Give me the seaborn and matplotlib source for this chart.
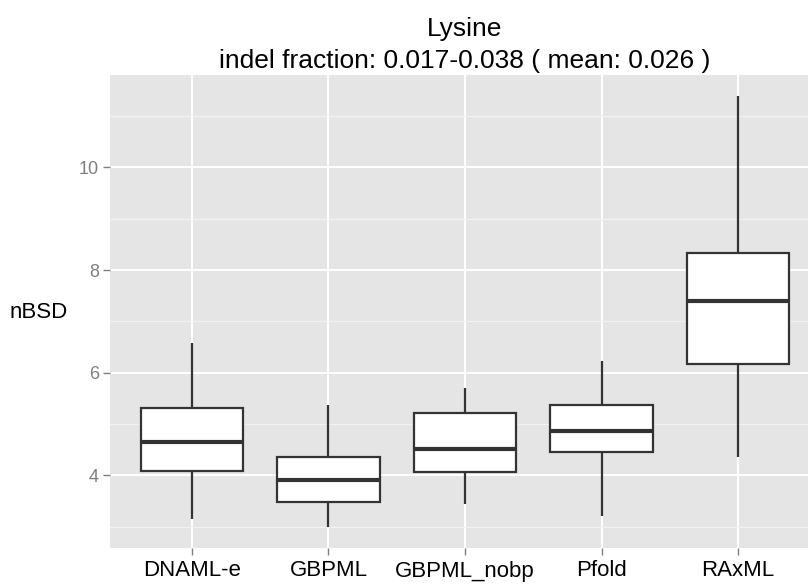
import numpy as np
import pandas as pd
import matplotlib
matplotlib.use("Agg")
import matplotlib.pyplot as plt
import seaborn as sns
from matplotlib.ticker import FixedLocator

# Five-number summaries of nBSD per method: whisker low, Q1, median, Q3, whisker high
methods = ["DNAML-e", "GBPML", "GBPML_nobp", "Pfold", "RAxML"]
dnaml_e = [3.14, 4.08, 4.65, 5.31, 6.57]
gbpml = [3.00, 3.47, 3.91, 4.35, 5.36]
gbpml_nobp = [3.45, 4.07, 4.51, 5.21, 5.70]
pfold = [3.21, 4.46, 4.87, 5.36, 6.23]
raxml = [4.35, 6.16, 7.40, 8.34, 11.39]
y_ticks = [4, 6, 8, 10]
y_minor = [3, 5, 7, 9, 11]

title_main = "Lysine"
title_sub = "indel fraction: 0.017-0.038 ( mean: 0.026 )"

summaries = [dnaml_e, gbpml, gbpml_nobp, pfold, raxml]
df = pd.DataFrame(
    [(m, v) for m, s in zip(methods, summaries) for v in s],
    columns=["method", "nBSD"],
)

sns.set_theme(style="white")
plt.rcParams["font.family"] = ["Liberation Sans", "DejaVu Sans"]

fig = plt.figure(figsize=(8.08, 5.87), dpi=100)
W, H = 808, 587
left, right, top, bottom = 110, 820, 75, 548
ax = fig.add_axes([left / W, (H - bottom) / H, (right - left) / W, (bottom - top) / H])
ax.set_facecolor("#E5E5E5")

sns.boxplot(
    data=df, x="method", y="nBSD", order=methods, ax=ax,
    color="white", linecolor="#333333", linewidth=1.6, width=0.75,
    whis=np.inf, showcaps=False, saturation=1,
    medianprops={"linewidth": 3.0, "color": "#333333"},
)

ax.set_xlim(-0.6, len(methods) - 0.4)
ax.set_ylim(2.583, 11.80)

# grid: white major lines, pale minor lines, drawn below boxes
ax.yaxis.set_major_locator(FixedLocator(y_ticks))
ax.yaxis.set_minor_locator(FixedLocator(y_minor))
ax.set_axisbelow(True)
ax.grid(which="major", axis="both", color="white", linewidth=1.4)
ax.grid(which="minor", axis="y", color="#F2F2F2", linewidth=0.9)

for s in ax.spines.values():
    s.set_visible(False)

ax.tick_params(axis="y", which="major", length=5, width=1.0, color="#7F7F7F",
               labelcolor="#7F7F7F", labelsize=13, pad=3, left=True)
ax.tick_params(axis="y", which="minor", length=0)
ax.tick_params(axis="x", length=5, width=1.0, color="#7F7F7F",
               labelcolor="black", labelsize=16, pad=4, bottom=True)

ax.set_xlabel("")
ax.set_ylabel("nBSD", rotation=0, fontsize=16, color="black", labelpad=0)
ax.yaxis.set_label_coords(-0.10, 0.476)
ax.yaxis.label.set_horizontalalignment("center")

ax.set_title(title_main + "\n" + title_sub, fontsize=19, color="black",
             pad=5, linespacing=1.45)

fig.savefig("out.png", dpi=100)
